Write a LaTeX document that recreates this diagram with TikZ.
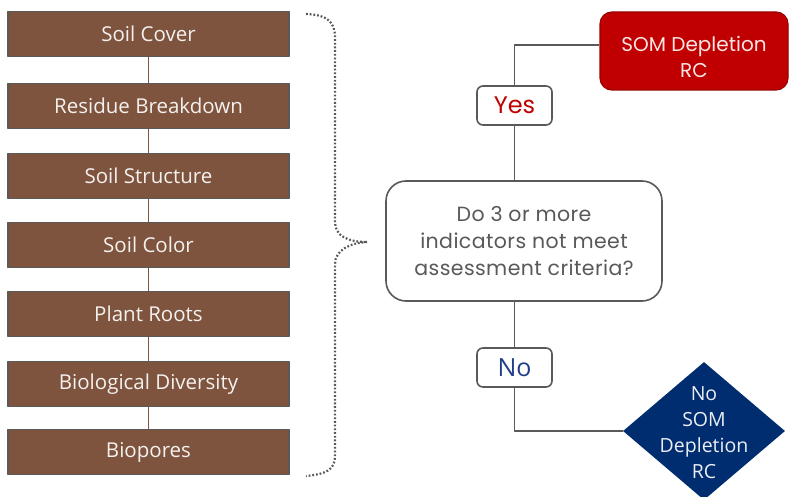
\documentclass[tikz,border=0pt]{standalone}
\usepackage{fontspec}
\setmainfont{Open Sans}
\newfontfamily\geofont{Poppins}
\usetikzlibrary{shapes.geometric}
\definecolor{soilbrown}{RGB}{126,84,62}
\definecolor{somred}{RGB}{192,0,0}
\definecolor{somblue}{RGB}{0,44,112}
\definecolor{noblue}{RGB}{32,62,138}
\definecolor{linegray}{RGB}{89,89,89}
\begin{document}
\begin{tikzpicture}[x=1pt, y=-1pt, line join=round,
    ind/.style={draw=linegray, line width=1.2pt, fill=soilbrown, text=white!92!soilbrown,
      minimum width=281pt, minimum height=45pt, inner sep=0pt,
      font=\fontsize{20.5}{24}\selectfont},
    question/.style={draw=linegray, line width=1.6pt, rounded corners=20pt, fill=white,
      minimum width=276pt, minimum height=120pt, align=center, text=linegray,
      font=\geofont\fontsize{20.5}{27}\selectfont\addfontfeature{LetterSpace=2}},
    answer/.style={draw=linegray, line width=1.6pt, rounded corners=6pt, fill=white,
      minimum width=75pt, minimum height=39pt, inner sep=0pt,
      font=\fontsize{25}{28}\selectfont},
    wire/.style={draw=linegray, line width=1.6pt}]
  \useasboundingbox (0,0) rectangle (789,497);
  % indicator stack
  \foreach \t/\y [count=\i] in {Soil Cover/34, Residue Breakdown/106, Soil Structure/176,
      Soil Color/245, Plant Roots/314, Biological Diversity/384, Biopores/452}
    \node[ind] (ind\i) at (148.5,\y) {\t};
  \foreach \i [count=\j from 2] in {1,...,6}
    \draw[soilbrown, line width=1.6pt] (ind\i.south) -- (ind\j.north);
  % dotted brace
  \draw[linegray, line width=2.2pt, dash pattern=on 1.8pt off 1.9pt]
    (306,14) .. controls (328,15) and (335,22) .. (335,38) -- (335,222)
    .. controls (335,236) and (348,242) .. (367,242);
  \draw[linegray, line width=2.2pt, dash pattern=on 1.8pt off 1.9pt]
    (367,242) .. controls (350,243) and (335,250) .. (335,264) -- (335,456)
    .. controls (335,470) and (326,474) .. (306,476);
  % decision
  \node[question] (quest) at (524,241) {Do 3 or more\\indicators not meet\\assessment criteria?};
  \node[answer, text=somred, font=\geofont\fontsize{24}{28}\selectfont] (yes) at (514.5,105.5) {Yes};
  \node[answer, text=noblue] (no) at (514.5,367.5) {No};
  \node[draw=somred!80!black, line width=1.2pt, fill=somred, rounded corners=12pt,
    minimum width=188pt, minimum height=78pt] (deplete) at (694,51) {};
  \node[align=center, text=white!90!somred, font=\geofont\fontsize{20}{26}\selectfont]
    at ([yshift=-6pt]deplete.center) {SOM Depletion\\RC};
  \node[diamond, fill=somblue, minimum width=162pt, minimum height=138pt,
    shape aspect=1.17, inner sep=0pt] (nodeplete) at (704,431) {};
  \node[align=center, text=white!92!somblue, font=\fontsize{19.5}{26}\selectfont]
    at ([yshift=-2pt]nodeplete.center) {No\\SOM\\Depletion\\RC};
  % connectors
  \draw[wire] (quest.north -| yes.north) -- (yes.south);
  \draw[wire] (yes.north) |- ([yshift=6pt]deplete.west);
  \draw[wire] (quest.south -| no.north) -- (no.north);
  \draw[wire] (no.south) |- (nodeplete.west);
\end{tikzpicture}
\end{document}
